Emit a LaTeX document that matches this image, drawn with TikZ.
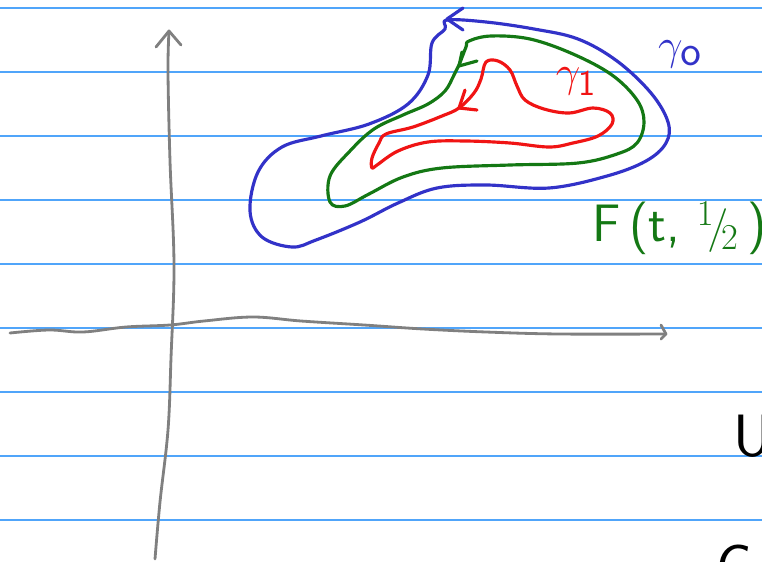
\documentclass[tikz,border=0pt]{standalone}
\usepackage{tikz}
\usetikzlibrary{calc}
\definecolor{ruleblue}{RGB}{80,165,250}
\definecolor{axisgray}{RGB}{128,128,128}
\definecolor{penblue}{RGB}{50,50,200}
\definecolor{pengreen}{RGB}{20,120,20}
\definecolor{penred}{RGB}{240,20,20}

\begin{document}
\begin{tikzpicture}[
    x=0.02cm, y=-0.02cm,
    line cap=round, line join=round,
    rule/.style={ruleblue, line width=0.6pt},
    axis/.style={axisgray, line width=1.6pt},
    pen/.style={line width=1.8pt},
    every node/.style={inner sep=0pt}
]
  \useasboundingbox (0,0) rectangle (762,562);
  \clip (0,0) rectangle (762,562);

  % ruled paper
  \foreach \y in {8,72,...,520}
    \draw[rule] (0,\y) -- (762,\y);

  % axes
  \coordinate (ytip) at (169,31);
  \coordinate (xtip) at (666,334);
  \draw[axis] plot[smooth, tension=0.6] coordinates {(155,559) (160,502) (168,430)
    (171,358) (174,265) (170,161) (168,72) (169,31)};
  \draw[axis] (156,47) -- (ytip) -- (181,45);
  \draw[axis] plot[smooth, tension=0.6] coordinates {(10,333) (49,330) (83,332)
    (126,327) (170,325) (204,321) (253,317) (301,321) (364,325) (423,329)
    (486,332) (559,334) (666,334)};
  \draw[axis] (661,325) -- (xtip) -- (661,339);

  % gamma_0
  \coordinate (tip0) at (447,19);
  \draw[pen, penblue] plot[smooth cycle, tension=0.6] coordinates {(447,20)
    (486,22) (534,29) (578,39) (617,61) (651,93) (668,122) (666,143) (646,161)
    (607,176) (549,188) (486,185) (437,188) (398,203) (360,222) (316,240)
    (292,247) (262,237) (250,211) (258,172) (282,147) (321,136) (369,124)
    (408,104) (428,75) (432,43) (445,29)};
  \draw[pen, penblue] (463,8) -- (tip0) -- (463,30);

  % F(t,1/2)
  \coordinate (tiph) at (459,66);
  \draw[pen, pengreen] plot[smooth cycle, tension=0.6] coordinates {(469,41)
    (491,36) (530,39) (573,54) (612,75) (637,100) (644,122) (637,143) (617,154)
    (578,163) (510,165) (442,168) (403,177) (369,194) (345,206) (330,202)
    (330,176) (350,151) (374,129) (403,115) (428,104) (445,91) (454,75)
    (459,65) (466,47)};
  \draw[pen, pengreen] (477,61) -- (tiph) -- (462,52);

  % gamma_1
  \coordinate (tip1) at (459,108);
  \draw[pen, penred] plot[smooth cycle, tension=0.6] coordinates {(486,62)
    (498,61) (510,70) (517,86) (525,100) (544,109) (569,113) (593,108) (610,113)
    (612,124) (598,136) (573,143) (549,147) (510,143) (466,141) (428,142)
    (398,151) (377,165) (372,168) (372,158) (379,143) (386,134) (413,127)
    (442,116) (459,108) (474,93) (481,79)};
  \draw[pen, penred] (465,90) -- (tip1) -- (477,110);

  % labels
  \node[penblue, font=\fontsize{42}{46}\selectfont] (gam0) at (680,54) {$\gamma_{\mathsf{o}}$};
  \node[penred, font=\fontsize{32}{36}\selectfont] (gam1) at (576,82) {$\gamma_{\mathsf{1}}$};
  \node[pengreen, anchor=west, font=\fontsize{30}{34}\selectfont\sffamily] (Flab) at (592,228)
    {F\,(t,\ $^{1}\!/\!_{2}$\,)};
  \node[anchor=west, font=\fontsize{34}{38}\selectfont\sffamily] (U) at (733,436) {U};
  \node[anchor=north west, font=\fontsize{34}{38}\selectfont\sffamily] (C) at (716,545) {C};
\end{tikzpicture}
\end{document}
